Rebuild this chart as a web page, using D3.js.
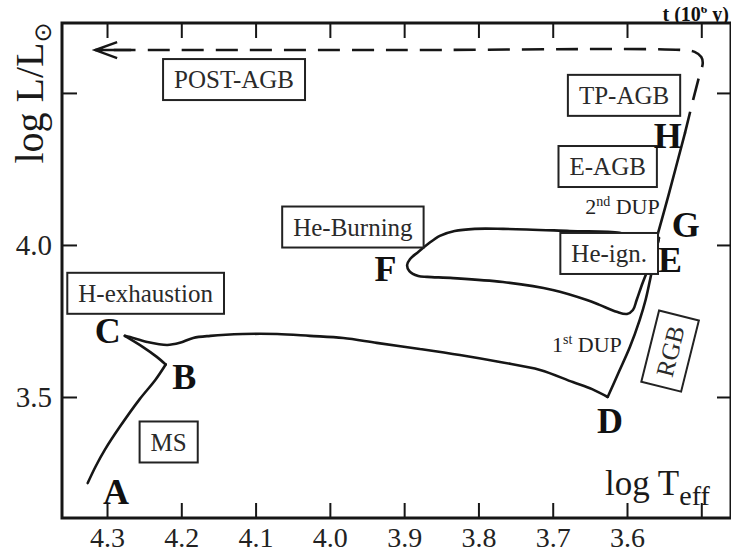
<!DOCTYPE html>
<html><head><meta charset="utf-8">
<script src="https://cdn.jsdelivr.net/npm/d3@7"></script>
<style>
html,body{margin:0;padding:0;background:#fff;}
svg{display:block;}
</style></head>
<body>
<svg id="chart" width="731" height="553"></svg>
<script>
// ---------- data (log Teff, log L/Lsun) ----------
const xTicks = [4.3, 4.2, 4.1, 4.0, 3.9, 3.8, 3.7, 3.6, 3.5];
const xTickLabels = ["4.3", "4.2", "4.1", "4.0", "3.9", "3.8", "3.7", "3.6", ""];
const yTicks = [4.5, 4.0, 3.5];
const yTickLabels = ["", "4.0", "3.5"];

// A -> B : main sequence
const msTrack = [[4.326, 3.217], [4.315, 3.273], [4.303, 3.326], [4.283, 3.401], [4.256, 3.493], [4.235, 3.556], [4.221, 3.607]];
// B -> C : hook at H exhaustion
const hookTrack = [[4.221, 3.607], [4.233, 3.632], [4.252, 3.665], [4.276, 3.701]];
// C -> D : subgiant crossing
const subgiantTrack = [[4.276, 3.701], [4.269, 3.697], [4.246, 3.681], [4.219, 3.671], [4.202, 3.678], [4.184, 3.694], [4.161, 3.701], [4.117, 3.707], [4.071, 3.707], [4.027, 3.701], [3.982, 3.694], [3.937, 3.678], [3.879, 3.658], [3.825, 3.638], [3.771, 3.615], [3.717, 3.589], [3.673, 3.549], [3.647, 3.526], [3.626, 3.500]];
// D -> E : red giant branch
const rgbTrack = [[3.626, 3.500], [3.611, 3.582], [3.596, 3.665], [3.583, 3.753], [3.575, 3.819], [3.569, 3.885], [3.564, 3.944], [3.560, 3.990], [3.557, 4.023]];
// E -> F -> G : core He burning loop
const heLoop = [[3.557, 4.023], [3.562, 3.977], [3.571, 3.924], [3.579, 3.875], [3.587, 3.819], [3.592, 3.786], [3.600, 3.773], [3.614, 3.780], [3.637, 3.803], [3.654, 3.819], [3.700, 3.852], [3.767, 3.878], [3.834, 3.891], [3.869, 3.895], [3.881, 3.898], [3.893, 3.914], [3.896, 3.934], [3.892, 3.954], [3.881, 3.977], [3.868, 4.003], [3.852, 4.030], [3.832, 4.046], [3.805, 4.053], [3.767, 4.053], [3.677, 4.046], [3.610, 4.040], [3.593, 4.026], [3.583, 4.010], [3.572, 4.013], [3.560, 4.026]];
// G -> H : early AGB
const agbTrack = [[3.560, 4.023], [3.544, 4.165], [3.522, 4.368]];
// H -> ... : TP-AGB and post-AGB (dashed)
const postAgbTrack = [[3.522, 4.368], [3.511, 4.477], [3.503, 4.553], [3.498, 4.599], [3.500, 4.618], [3.509, 4.635], [3.525, 4.641], [3.900, 4.641], [4.316, 4.641]];

const boxLabels = [
  {text: "POST-AGB", t: 4.129, l: 4.544},
  {text: "TP-AGB", t: 3.604, l: 4.492},
  {text: "E-AGB", t: 3.626, l: 4.258},
  {text: "He-Burning", t: 3.969, l: 4.059},
  {text: "He-ign.", t: 3.624, l: 3.972},
  {text: "H-exhaustion", t: 4.248, l: 3.841},
  {text: "MS", t: 4.217, l: 3.352},
  {text: "RGB", t: 3.542, l: 3.651, rotate: -76}
];
const pointLabels = [
  {text: "A", t: 4.288, l: 3.188},
  {text: "B", t: 4.196, l: 3.569},
  {text: "C", t: 4.299, l: 3.720},
  {text: "D", t: 3.623, l: 3.424},
  {text: "E", t: 3.542, l: 3.951},
  {text: "F", t: 3.925, l: 3.924},
  {text: "G", t: 3.521, l: 4.066},
  {text: "H", t: 3.545, l: 4.359}
];
const dupLabels = [
  {num: "2", sup: "nd", rest: " DUP", t: 3.556, l: 4.128},
  {num: "1", sup: "st", rest: " DUP", t: 3.607, l: 3.674}
];

// ---------- drawing ----------
const SERIF = "'Liberation Serif','Times New Roman','DejaVu Serif',serif";
const INK = "#161616";
const svg = d3.select("#chart");
const L = 62, R = 731, T = 23, B = 518;

const x = d3.scaleLinear().domain([4.3606, 3.4600]).range([L, R]);
const y = d3.scaleLinear().domain([3.102, 4.730]).range([B, T]);

function styleAxis(g, size) {
  g.select(".domain").remove();
  g.selectAll(".tick line").attr("stroke", INK).attr("stroke-width", 2);
  g.selectAll(".tick text").attr("fill", "#222").style("font-family", SERIF).style("font-size", size + "px");
}

svg.append("g").attr("transform", `translate(0,${B})`)
  .call(d3.axisBottom(x).tickValues(xTicks).tickFormat((d, i) => xTickLabels[i]).tickSizeInner(-15).tickSizeOuter(0).tickPadding(9))
  .call(g => styleAxis(g, 28));
svg.append("g").attr("transform", `translate(0,${T})`)
  .call(d3.axisTop(x).tickValues(xTicks).tickFormat("").tickSizeInner(-15).tickSizeOuter(0))
  .call(g => styleAxis(g, 28));
svg.append("g").attr("transform", `translate(${L},0)`)
  .call(d3.axisLeft(y).tickValues(yTicks).tickFormat((d, i) => yTickLabels[i]).tickSizeInner(-15).tickSizeOuter(0).tickPadding(10))
  .call(g => styleAxis(g, 29));
svg.append("g").attr("transform", `translate(${R},0)`)
  .call(d3.axisRight(y).tickValues(yTicks).tickFormat("").tickSizeInner(-14).tickSizeOuter(0))
  .call(g => styleAxis(g, 28));

// frame
svg.append("rect").attr("x", L).attr("y", T).attr("width", R - L).attr("height", B - T)
  .attr("fill", "none").attr("stroke", INK).attr("stroke-width", 3);

// tracks
const line = d3.line().x(d => x(d[0])).y(d => y(d[1])).curve(d3.curveCatmullRom.alpha(0.5));
[msTrack, hookTrack, subgiantTrack, rgbTrack, heLoop, agbTrack].forEach(seg => {
  svg.append("path").attr("d", line(seg)).attr("fill", "none")
    .attr("stroke", INK).attr("stroke-width", 2.6).attr("stroke-linejoin", "round").attr("stroke-linecap", "round");
});
svg.append("path").attr("d", line(postAgbTrack)).attr("fill", "none")
  .attr("stroke", INK).attr("stroke-width", 2.6).attr("stroke-dasharray", "22,12");
const tip = postAgbTrack[postAgbTrack.length - 1];
const tx = x(tip[0]), ty = y(tip[1]);
svg.append("path").attr("d", `M${tx + 22},${ty - 8}L${tx},${ty}L${tx + 22},${ty + 8}M${tx},${ty}L${tx + 36},${ty}`)
  .attr("fill", "none").attr("stroke", INK).attr("stroke-width", 2.4).attr("stroke-linejoin", "miter");

// boxed labels
boxLabels.forEach(b => {
  const g = svg.append("g").attr("transform", `translate(${x(b.t)},${y(b.l)}) rotate(${b.rotate || 0})`);
  const txt = g.append("text").attr("text-anchor", "middle").attr("dy", "0.35em")
    .style("font-family", SERIF).style("font-size", "25px").attr("fill", "#2a2a2a").text(b.text);
  const w = txt.node().getComputedTextLength() + 22, h = 41;
  g.insert("rect", "text").attr("x", -w / 2).attr("y", -h / 2).attr("width", w).attr("height", h)
    .attr("fill", "#fff").attr("stroke", "#222").attr("stroke-width", 2);
});

// point labels
svg.selectAll("text.pt").data(pointLabels).join("text").attr("class", "pt")
  .attr("x", d => x(d.t)).attr("y", d => y(d.l)).attr("dy", "0.35em").attr("text-anchor", "middle")
  .style("font-family", SERIF).style("font-size", "36px").style("font-weight", "bold").attr("fill", "#111")
  .text(d => d.text);

// dredge-up labels
dupLabels.forEach(d => {
  const t = svg.append("text").attr("x", x(d.t)).attr("y", y(d.l)).attr("dy", "0.35em").attr("text-anchor", "end")
    .style("font-family", SERIF).style("font-size", "22px").attr("fill", "#222");
  t.append("tspan").text(d.num);
  t.append("tspan").attr("dy", -8).style("font-size", "14px").text(d.sup);
  t.append("tspan").attr("dy", 8).text(d.rest);
});

// axis titles
const yt = svg.append("text").attr("transform", "translate(43,93) rotate(-90)").attr("text-anchor", "middle")
  .style("font-family", SERIF).style("font-size", "40px").attr("fill", "#1a1a1a");
yt.append("tspan").text("log L/L");
yt.append("tspan").attr("dy", 8).style("font-size", "24px").style("font-family", "'DejaVu Sans',sans-serif").text("⊙");

const xt = svg.append("text").attr("x", 605).attr("y", 495)
  .style("font-family", SERIF).style("font-size", "35px").attr("fill", "#1a1a1a");
xt.append("tspan").text("log T");
xt.append("tspan").attr("dy", 10).style("font-size", "28px").text("eff");

// top axis title (partly cropped at the top, as in the source image)
svg.append("clipPath").attr("id", "topclip").append("rect").attr("x", 0).attr("y", 7).attr("width", 731).attr("height", 15);
const tt = svg.append("text").attr("x", 729).attr("y", 21).attr("text-anchor", "end").attr("clip-path", "url(#topclip)")
  .style("font-family", SERIF).style("font-size", "20px").style("font-weight", "bold").attr("fill", "#111");
tt.append("tspan").text("t (10");
tt.append("tspan").attr("dy", -8).style("font-size", "13px").text("6");
tt.append("tspan").attr("dy", 8).text(" y)");
</script>
</body></html>
